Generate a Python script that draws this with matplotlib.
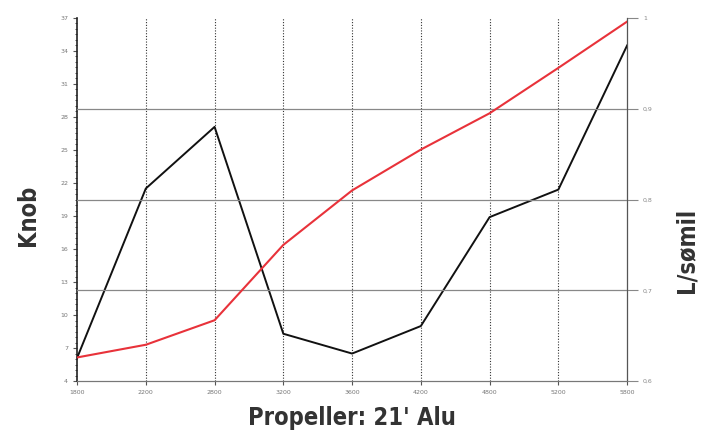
import numpy as np
import matplotlib.pyplot as plt
from matplotlib.ticker import FuncFormatter, MultipleLocator

# RPM labels along the bottom
rpm = ['1800', '2200', '2800', '3200', '3600', '4200', '4800', '5200', '5800']
# speed in knots (black, left axis)
knob = [6.1, 21.5, 27.1, 8.3, 6.5, 9.0, 18.9, 21.4, 34.5]
# fuel per nautical mile (red, right axis)
l_somil = [0.626, 0.640, 0.667, 0.750, 0.810, 0.855, 0.895, 0.945, 0.996]

left_ticks = list(range(4, 38, 3))
right_ticks = [0.6, 0.7, 0.8, 0.9, 1.0]

plt.rcParams['font.family'] = ['Liberation Sans Narrow', 'DejaVu Sans']

fig = plt.figure(figsize=(7.07, 4.38), dpi=100)
ax = fig.add_axes([0.109, 0.130, 0.778, 0.829])
ax2 = ax.twinx()

x = np.arange(len(rpm))

# vertical dotted grid at each rpm tick
for xi in x[1:-1]:
    ax.axvline(xi, color='#333333', lw=0.8, ls=(0, (1, 1.5)), zorder=1)

# horizontal grid on right axis values
for v in right_ticks[1:-1]:
    ax2.axhline(v, color='#888888', lw=0.9, zorder=1)

ax.plot(x, knob, color='#111111', lw=1.4, zorder=3)
ax2.plot(x, l_somil, color='#e8323a', lw=1.5, zorder=3)

ax.set_xlim(0, len(rpm) - 1)
ax.set_ylim(4, 37)
ax2.set_ylim(0.6, 1.0)

ax.set_xticks(x)
ax.set_xticklabels(rpm)
ax.set_yticks(left_ticks)
ax.yaxis.set_minor_locator(MultipleLocator(0.5))
ax2.set_yticks(right_ticks)
ax2.yaxis.set_major_formatter(FuncFormatter(
    lambda v, p: '1' if abs(v - 1) < 1e-9 else ('%.1f' % v).replace('.', ',')))

for a in (ax, ax2):
    a.tick_params(labelsize=4.5, labelcolor='#777777', colors='#555555',
                  length=3, width=0.8)
ax.tick_params(axis='y', which='minor', length=1.5, width=0.6, colors='#333333')
ax2.tick_params(axis='y', length=8, colors='#888888')

ax.spines['top'].set_visible(False)
ax2.spines['top'].set_visible(False)
ax.spines['left'].set_color('#222222')
ax.spines['left'].set_linewidth(1.2)
ax2.spines['right'].set_color('#555555')
ax2.spines['bottom'].set_color('#777777')
ax.spines['bottom'].set_color('#777777')
ax2.spines['left'].set_visible(False)

ax.set_xlabel("Propeller: 21' Alu", fontsize=17, fontweight='bold',
              fontstretch='condensed', color='#333333', labelpad=8)
ax.set_ylabel('Knob', fontsize=17, fontweight='bold', fontstretch='condensed',
              color='#333333')
ax2.set_ylabel('L/sømil', fontsize=17, fontweight='bold', fontstretch='condensed',
               color='#333333')
ax.yaxis.set_label_coords(-0.068, 0.457)
ax2.yaxis.set_label_coords(1.087, 0.36)

fig.savefig('out.png', dpi=100)
